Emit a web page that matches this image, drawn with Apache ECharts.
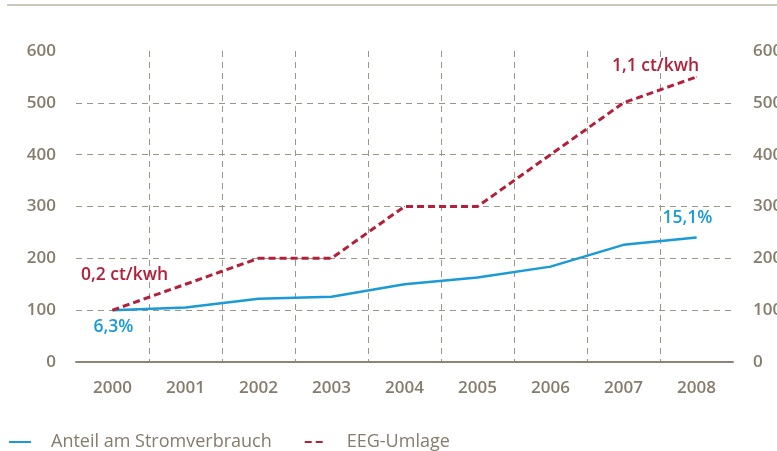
<!DOCTYPE html>
<html>
<head>
<meta charset="utf-8">
<script src="https://cdn.jsdelivr.net/npm/echarts@6/dist/echarts.min.js"></script>
<style>
  html, body { margin: 0; padding: 0; background: #fff; }
  #chart { width: 777px; height: 451px; }
</style>
</head>
<body>
<div id="chart"></div>
<script>
// Index 2000 = 100
const years = ['2000', '2001', '2002', '2003', '2004', '2005', '2006', '2007', '2008'];
const anteil = [100, 105, 122, 126, 150, 163, 184, 226, 240];
const eegUmlage = [100, 150, 200, 200, 300, 300, 400, 500, 550];
const yTicks = [0, 600, 100];

const grey = '#857c6c';
const gridGrey = '#9d9586';
const blue = '#1a9ad6';
const red = '#b2203a';
const font = 'Open Sans';
const weight = 600;

const labelStyle = {fontFamily: font, fontSize: 17.5, fontWeight: weight};

function withLabels(values, labels) {
    return values.map(function (v, i) {
        if (!labels[i]) return v;
        return {value: v, label: Object.assign({show: true}, labels[i])};
    });
}

const anteilData = withLabels(anteil, {
    0: {formatter: '6,3%', position: 'bottom', offset: [1, 2], color: blue},
    8: {formatter: '15,1%', position: 'top', offset: [-9, -5], color: blue}
});
const eegData = withLabels(eegUmlage, {
    0: {formatter: '0,2 ct/kwh', position: 'top', offset: [12, -21], color: red},
    8: {formatter: '1,1 ct/kwh', position: 'top', offset: [-41, 4], color: red}
});

const yAxisBase = {
    type: 'value',
    min: yTicks[0],
    max: yTicks[1],
    interval: yTicks[2],
    axisLine: {show: false},
    axisTick: {show: false},
    axisLabel: {color: grey, fontFamily: font, fontSize: 17, fontWeight: weight, margin: 20},
    splitLine: {
        show: true,
        showMinLine: false,
        showMaxLine: false,
        lineStyle: {color: gridGrey, type: [6, 5], width: 1}
    }
};

const options = {
    animation: false,
    grid: {left: 76, right: 44, top: 51, bottom: 89, outerBoundsMode: 'none', containLabel: false},
    graphic: [{
        type: 'line',
        shape: {x1: 7, y1: 5, x2: 777, y2: 5},
        style: {stroke: '#bcb5a7', lineWidth: 1.5}
    }],
    legend: {
        left: 3,
        bottom: -5,
        itemWidth: 22,
        itemHeight: 10,
        itemGap: 32,
        itemStyle: {opacity: 0},
        textStyle: {color: grey, fontFamily: font, fontSize: 18, padding: [0, 0, 0, 15]},
        data: ['Anteil am Stromverbrauch', 'EEG-Umlage']
    },
    xAxis: [{
        type: 'category',
        data: years,
        boundaryGap: true,
        axisLine: {lineStyle: {color: grey, width: 1.5}},
        axisTick: {length: 16, lineStyle: {color: grey, width: 1.5}},
        axisLabel: {color: grey, fontFamily: font, fontSize: 17, fontWeight: weight, margin: 18},
        splitLine: {
            show: true,
            showMinLine: false,
            showMaxLine: false,
            lineStyle: {color: gridGrey, type: [6, 5], width: 1}
        }
    }, {
        type: 'category',
        data: years,
        position: 'top',
        axisLine: {lineStyle: {color: grey, width: 1.5}},
        axisTick: {show: false},
        axisLabel: {show: false}
    }],
    yAxis: [
        Object.assign({}, yAxisBase, {position: 'left'}),
        Object.assign({}, yAxisBase, {position: 'right', splitLine: {show: false}})
    ],
    series: [
        {
            name: 'Anteil am Stromverbrauch',
            type: 'line',
            data: anteilData,
            symbol: 'circle',
            symbolSize: 1,
            itemStyle: {color: blue},
            lineStyle: {color: blue, width: 2.5},
            label: labelStyle
        },
        {
            name: 'EEG-Umlage',
            type: 'line',
            data: eegData,
            symbol: 'circle',
            symbolSize: 1,
            itemStyle: {color: red},
            lineStyle: {color: red, width: 3, type: [7, 4]},
            label: labelStyle
        }
    ]
};

const E = echarts.init(document.getElementById('chart'));
E.setOption(options);
</script>
</body>
</html>
